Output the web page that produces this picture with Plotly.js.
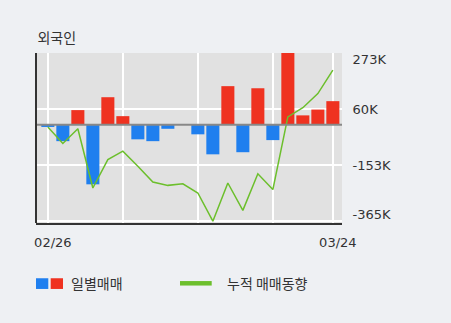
<!DOCTYPE html>
<html>
<head>
<meta charset="utf-8">
<script src="https://cdn.plot.ly/plotly-3.0.1.min.js"></script>
<style>html,body{margin:0;padding:0;background:#eef0f3;}#chart{width:451px;height:323px;}</style>
</head>
<body>
<div id="chart"></div>
<script>
// Trading dates (category axis)
var dates = ['02/26','02/27','02/28','03/02','03/03','03/04','03/05','03/06','03/09','03/10',
             '03/11','03/12','03/13','03/16','03/17','03/18','03/19','03/20','03/23','03/24'];
// Daily net trading (shares)
var daily = [-8000, -62000, 56000, -226000, 105000, 33000, -55000, -62000, -15000, 2000,
             -36000, -112000, 147000, -104000, 139000, -58000, 276000, 36000, 58000, 90000];
// Cumulative net trading trend (shares)
var cumulative = [-8000, -71000, -15000, -240000, -132000, -100000, -157000, -217000, -230000, -224000,
                  -259000, -366000, -221000, -325000, -186000, -246000, 30000, 65000, 119000, 208000];
// Y axis ticks
var yTickVals = [273000, 60000, -153000, -365000];
var yTickText = ['273K', '60K', '-153K', '-365K'];
var yLabelPos = [250000, 60000, -153000, -340000];
var xTickVals = [dates[0], dates[5], dates[10], dates[15], dates[19]];
var xTickText = [dates[0], '', '', '', dates[19]];
var legendText = ['일별매매', '누적 매매동향'];
var titleText = '외국인';

var RED = '#ef3220', BLUE = '#1f7fef', GREEN = '#6cbf2c';
var yRange = [-373000, 273000];
var tickFont = {family: 'DejaVu Sans, sans-serif', size: 13, color: '#333'};
var krFont = {family: 'Noto Sans CJK KR, sans-serif', size: 14, color: '#333'};

var traces = [
  {type: 'bar', x: dates, y: daily, width: 0.87,
   marker: {color: daily.map(function(v){ return v > 0 ? RED : BLUE; })},
   hoverinfo: 'x+y', showlegend: false},
  {type: 'scatter', mode: 'lines', x: dates, y: cumulative, yaxis: 'y2',
   line: {color: GREEN, width: 1.5}, showlegend: false}
];

var layout = {
  width: 451, height: 323,
  margin: {l: 36, r: 109, t: 53, b: 100},
  paper_bgcolor: '#eef0f3', plot_bgcolor: '#e1e1e1',
  bargap: 0.13,
  title: {text: titleText, font: krFont, xref: 'container', x: 0.083, xanchor: 'left',
          yref: 'container', y: 0.882, yanchor: 'middle'},
  xaxis: {type: 'category', range: [-0.79, 19.61], tickmode: 'array', tickvals: xTickVals, ticktext: xTickText,
          showgrid: true, gridcolor: '#ffffff', gridwidth: 1.5,
          showline: true, linecolor: '#333333', linewidth: 2,
          ticks: 'outside', ticklen: 6, tickcolor: 'rgba(0,0,0,0)', ticklabelshift: 5,
          tickfont: tickFont, fixedrange: true},
  yaxis: {range: yRange, tickmode: 'array', tickvals: yTickVals, ticktext: yTickText, showticklabels: false,
          showgrid: true, gridcolor: '#ffffff', gridwidth: 1.5, zeroline: false, side: 'right', fixedrange: true},
  yaxis2: {overlaying: 'y', side: 'right', range: yRange, tickmode: 'array', tickvals: yLabelPos, ticktext: yTickText,
           showgrid: false, zeroline: false, ticks: 'outside', ticklen: 7, tickcolor: 'rgba(0,0,0,0)',
           tickfont: tickFont, fixedrange: true},
  shapes: [
    {type: 'line', xref: 'paper', yref: 'y', x0: 0, x1: 1, y0: 0, y1: 0, line: {color: '#888888', width: 2}, layer: 'above'},
    {type: 'line', xref: 'paper', yref: 'paper', x0: 0, x1: 0, y0: 0, y1: 1, line: {color: '#333333', width: 2}, layer: 'above'},
    {type: 'rect', xref: 'paper', yref: 'paper', x0: 0, x1: 0.0402, y0: -0.388, y1: -0.325, fillcolor: BLUE, line: {width: 0}},
    {type: 'rect', xref: 'paper', yref: 'paper', x0: 0.048, x1: 0.0882, y0: -0.388, y1: -0.325, fillcolor: RED, line: {width: 0}},
    {type: 'line', xref: 'paper', yref: 'paper', x0: 0.4706, x1: 0.5742, y0: -0.3547, y1: -0.3547, line: {color: GREEN, width: 4.5}}
  ],
  annotations: [
    {xref: 'paper', yref: 'paper', x: 0.1078, y: -0.353, xanchor: 'left', yanchor: 'middle', text: legendText[0], showarrow: false, font: krFont},
    {xref: 'paper', yref: 'paper', x: 0.6176, y: -0.353, xanchor: 'left', yanchor: 'middle', text: legendText[1], showarrow: false, font: krFont}
  ]
};

Plotly.newPlot('chart', traces, layout, {displayModeBar: false, staticPlot: true});
</script>
</body>
</html>
